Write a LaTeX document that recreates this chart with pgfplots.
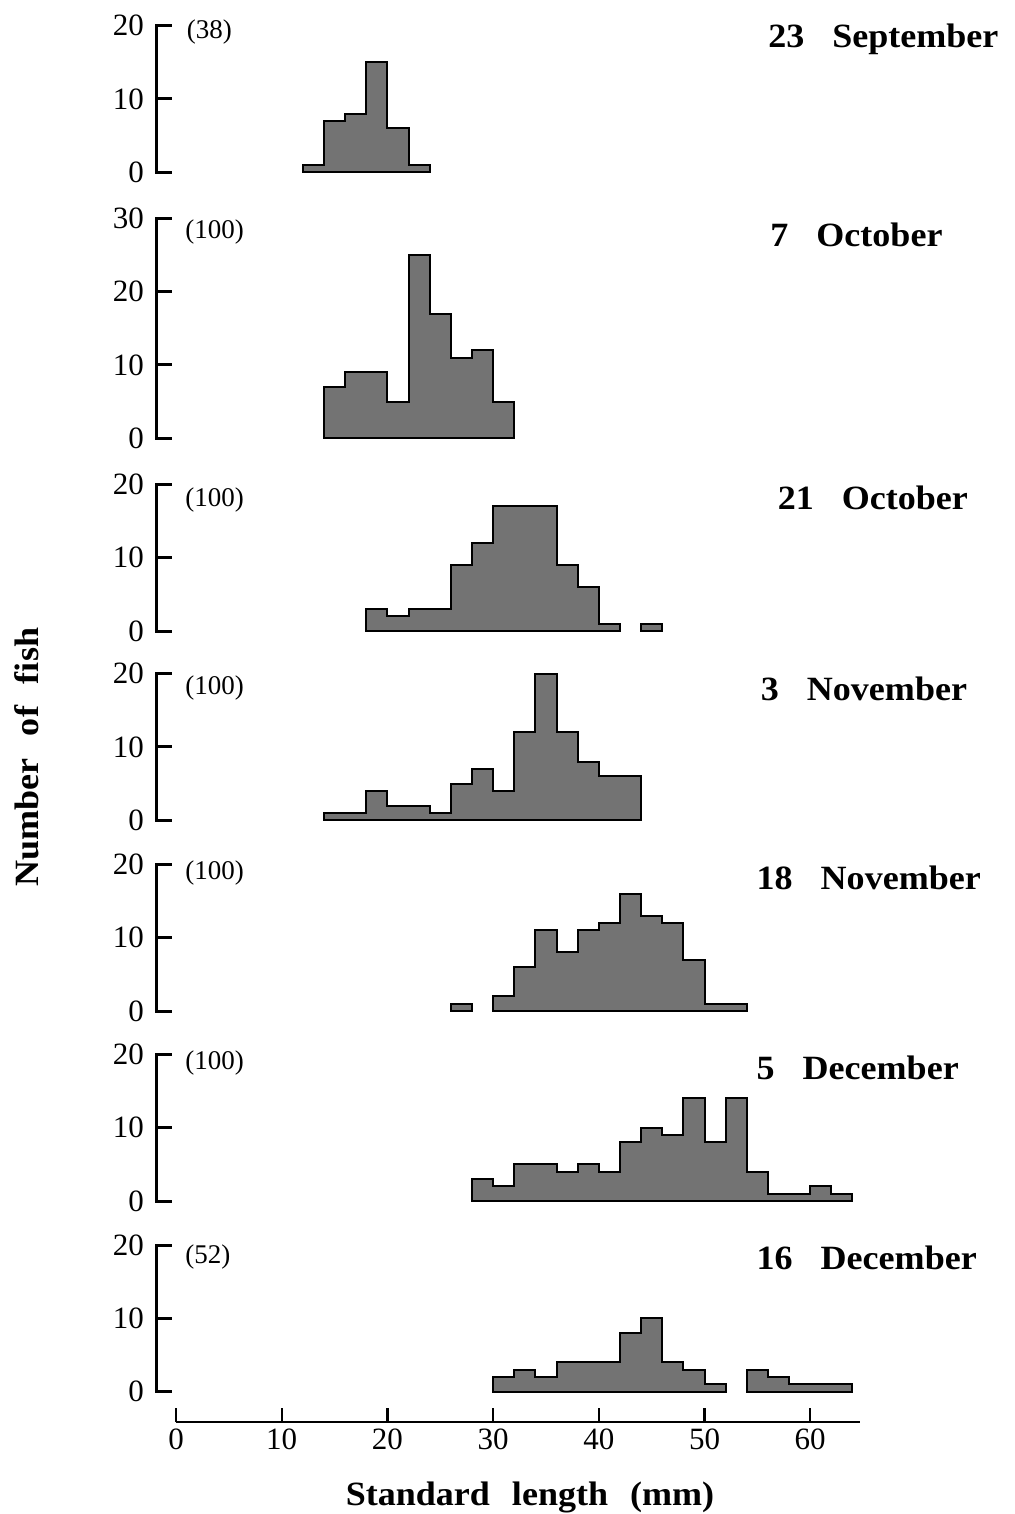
\documentclass[border=0pt]{standalone}
\usepackage{fontspec}
\setmainfont{Liberation Serif}
\newfontfamily\labfont[FakeStretch=1.06]{Liberation Serif}
\usepackage{pgfplots}
\pgfplotsset{compat=1.18}

% one panel per sampling date, all on the same mm scale
\pgfplotsset{
  panel/.style={
    x=5.285pt, y=3.667pt,
    xmin=-1.8, xmax=64.7, ymin=0,
    axis x line=none, axis y line=left,
    axis line style={-, line width=1.5pt, line cap=rect},
    xtick=\empty,
    tick align=inside,
    major tick length=7pt,
    ytick style={line width=1.5pt, black, line cap=rect},
    yticklabel style={font=\fontsize{15.5}{17}\selectfont, xshift=-3pt, /pgf/number format/assume math mode=true},
    clip=false,
    anchor=origin,
  },
  hist/.style={const plot, draw=black, line width=1pt, fill=black!55, line join=miter},
}
\newcommand{\datelab}[3]{\node[anchor=base west, inner sep=0pt, font=\labfont\bfseries\fontsize{17}{20}\selectfont] at (axis cs:#1,#2) {#3};}
\newcommand{\nlab}[3]{\node[anchor=west, inner sep=0pt, font=\fontsize{13.5}{15}\selectfont] at (axis cs:#1,#2) {#3};}

\begin{document}
\begin{tikzpicture}
\useasboundingbox (0,0) rectangle (507pt,-757pt);

% 23 September
\begin{axis}[panel, at={(88pt,-86.15pt)}, ymax=20, ytick={0,10,20}]
\addplot[hist] coordinates {(12,1)(14,7)(16,8)(18,15)(20,6)(22,1)(24,1)} \closedcycle;
\nlab{1.0}{19.1}{(38)}
\datelab{56.0}{17.0}{23\hspace{14pt}September}
\end{axis}

% 7 October
\begin{axis}[panel, at={(88pt,-219.15pt)}, ymax=30, ytick={0,10,20,30}]
\addplot[hist] coordinates {(14,7)(16,9)(18,9)(20,5)(22,25)(24,17)(26,11)(28,12)(30,5)(32,5)} \closedcycle;
\nlab{0.85}{28.1}{(100)}
\datelab{56.2}{26.2}{7\hspace{14pt}October}
\end{axis}

% 21 October
\begin{axis}[panel, at={(88pt,-315.5pt)}, ymax=20, ytick={0,10,20}]
\addplot[hist] coordinates {(18,3)(20,2)(22,3)(24,3)(26,9)(28,12)(30,17)(32,17)(34,17)(36,9)(38,6)(40,1)(42,1)} \closedcycle;
\addplot[hist] coordinates {(44,1)(46,1)} \closedcycle;
\nlab{0.85}{17.9}{(100)}
\datelab{56.9}{16.6}{21\hspace{14pt}October}
\end{axis}

% 3 November
\begin{axis}[panel, at={(88pt,-410.15pt)}, ymax=20, ytick={0,10,20}]
\addplot[hist] coordinates {(14,1)(16,1)(18,4)(20,2)(22,2)(24,1)(26,5)(28,7)(30,4)(32,12)(34,20)(36,12)(38,8)(40,6)(42,6)(44,6)} \closedcycle;
\nlab{0.85}{18.0}{(100)}
\datelab{55.3}{16.3}{3\hspace{14pt}November}
\end{axis}

% 18 November
\begin{axis}[panel, at={(88pt,-505.5pt)}, ymax=20, ytick={0,10,20}]
\addplot[hist] coordinates {(26,1)(28,1)} \closedcycle;
\addplot[hist] coordinates {(30,2)(32,6)(34,11)(36,8)(38,11)(40,12)(42,16)(44,13)(46,12)(48,7)(50,1)(52,1)(54,1)} \closedcycle;
\nlab{0.85}{18.8}{(100)}
\datelab{54.9}{16.5}{18\hspace{14pt}November}
\end{axis}

% 5 December
\begin{axis}[panel, at={(88pt,-600.5pt)}, ymax=20, ytick={0,10,20}]
\addplot[hist] coordinates {(28,3)(30,2)(32,5)(34,5)(36,4)(38,5)(40,4)(42,8)(44,10)(46,9)(48,14)(50,8)(52,14)(54,4)(56,1)(58,1)(60,2)(62,1)(64,1)} \closedcycle;
\nlab{0.85}{18.8}{(100)}
\datelab{54.9}{16.6}{5\hspace{14pt}December}
\end{axis}

% 16 December
\begin{axis}[panel, at={(88pt,-695.85pt)}, ymax=20, ytick={0,10,20}]
\addplot[hist] coordinates {(30,2)(32,3)(34,2)(36,4)(38,4)(40,4)(42,8)(44,10)(46,4)(48,3)(50,1)(52,1)} \closedcycle;
\addplot[hist] coordinates {(54,3)(56,2)(58,1)(60,1)(62,1)(64,1)} \closedcycle;
\nlab{0.85}{18.4}{(52)}
\datelab{54.9}{16.7}{16\hspace{14pt}December}
\end{axis}

% common length axis
\begin{axis}[at={(88pt,-711pt)}, anchor=origin,
    x=5.285pt, y=10pt, xmin=0, xmax=64.7, ymin=0, ymax=1,
    axis x line=bottom, axis y line=none,
    axis line style={-, line width=1.2pt},
    xtick={0,10,20,30,40,50,60},
    tick align=inside, major tick length=7pt,
    xtick style={line width=1.2pt, black},
    xticklabel style={font=\fontsize{15.5}{17}\selectfont, /pgf/number format/assume math mode=true},
    clip=false]
\end{axis}

\node[anchor=base, inner sep=0pt, font=\labfont\bfseries\fontsize{17}{20}\selectfont]
  at (265pt,-752.5pt) {Standard\hspace{11pt}length\hspace{11pt}(mm)};
\node[rotate=90, anchor=base, inner sep=0pt, font=\labfont\bfseries\fontsize{17}{20}\selectfont]
  at (19pt,-378.5pt) {Number\hspace{11pt}of\hspace{11pt}fish};
\end{tikzpicture}
\end{document}
